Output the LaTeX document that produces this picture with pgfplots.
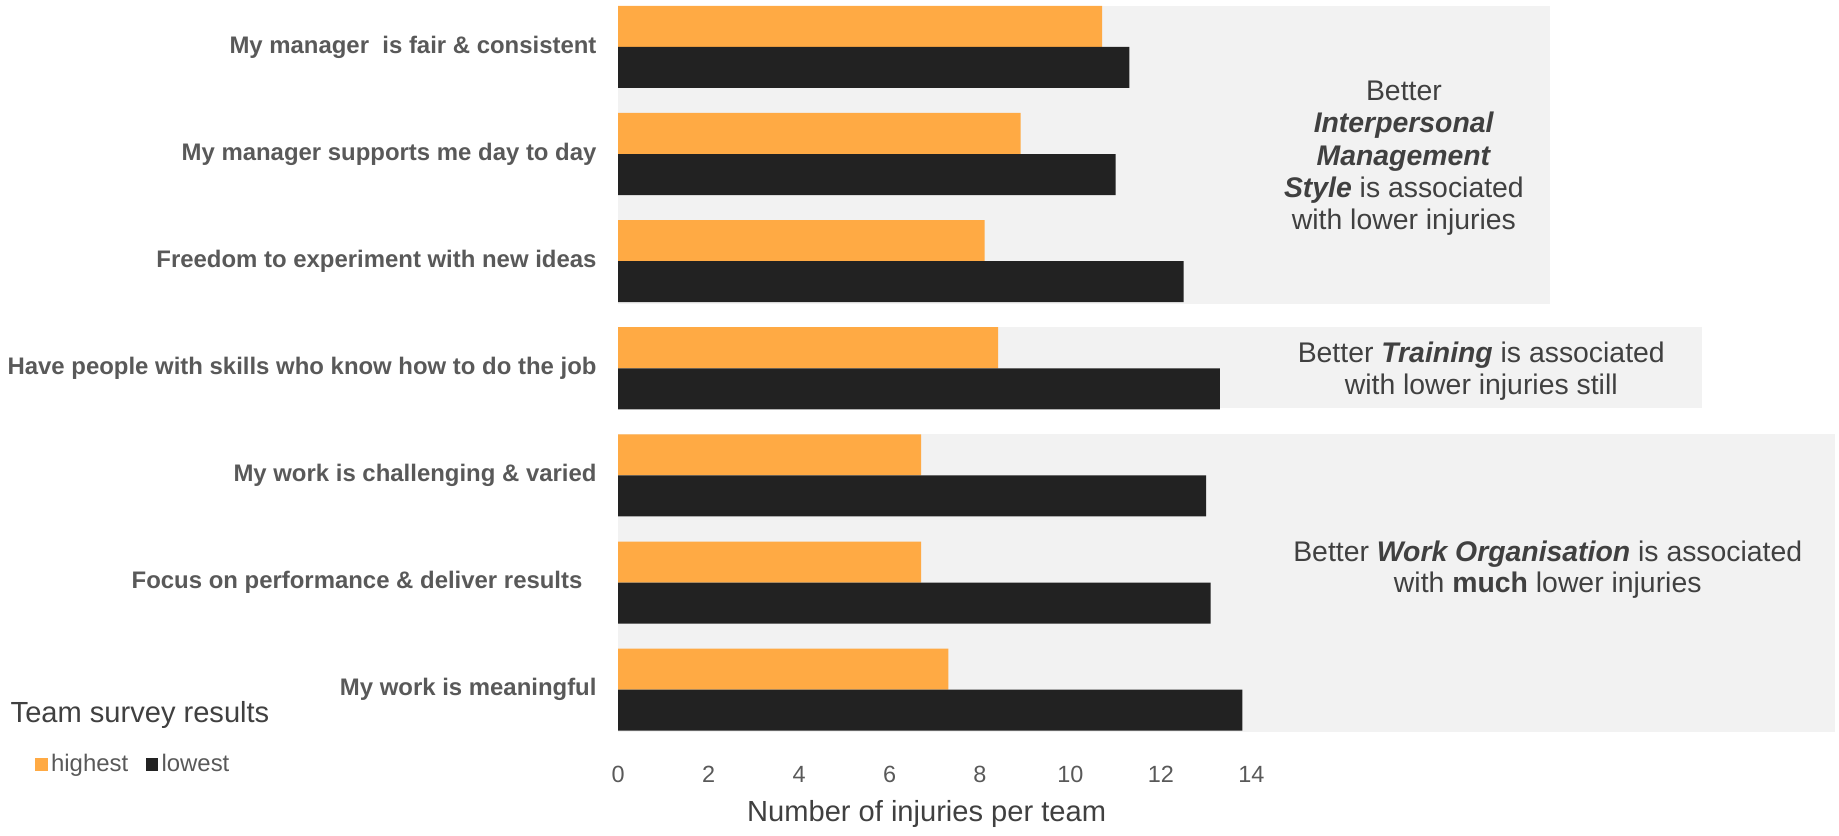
\documentclass[border=0pt]{standalone}
\usepackage{fontspec}
\setmainfont{Liberation Sans}
\usepackage{pgfplots}
\pgfplotsset{compat=1.18}
\definecolor{barorange}{HTML}{FFAA44}
\definecolor{barblack}{HTML}{222222}
\definecolor{boxgray}{HTML}{F2F2F2}
\definecolor{labgray}{HTML}{595959}
\definecolor{txtgray}{HTML}{404040}
\begin{document}
\begin{tikzpicture}
\begin{axis}[
  set layers,
  scale only axis, width=519pt, height=309.5pt,
  xmin=0, xmax=26.91, ymin=-0.394, ymax=6.383,
  xbar, bar width=0.383,
  axis lines*=left, axis line style={draw=none},
  tick style={draw=none}, major tick length=0pt,
  xtick={0,2,...,14},
  ytick={0,...,6},
  yticklabels={My work is meaningful, Focus on performance \& deliver results\rule{6pt}{0pt}, My work is challenging \& varied, Have people with skills who know how to do the job, Freedom to experiment with new ideas, My manager supports me day to day, My manager\ \ is fair \& consistent},
  yticklabel style={font=\bfseries\fontsize{10.2}{12}\selectfont, text=labgray, anchor=east, inner sep=0pt, xshift=-9pt},
  xticklabel style={font=\fontsize{10}{12}\selectfont, text=labgray, anchor=center, inner sep=0pt, yshift=-18pt},
  /pgf/number format/assume math mode=true,
  clip=false,
  legend style={draw=none, fill=none, at={(-0.479,-0.045)}, anchor=west, legend columns=2, font=\fontsize{10.2}{12}\selectfont, text=labgray, /tikz/every even column/.append style={column sep=6pt}, inner sep=0pt, nodes={inner sep=1.5pt}},
  legend cell align=left,
  legend image code/.code={\fill[#1] (0pt,-2.6pt) rectangle (5.2pt,2.6pt);},
]
\begin{pgfonlayer}{axis background}
\fill[boxgray] (axis cs:0,6.383) rectangle (axis cs:20.59,3.602);
\fill[boxgray] (axis cs:0,3.383) rectangle (axis cs:23.96,2.628);
\fill[boxgray] (axis cs:0,2.387) rectangle (axis cs:26.91,-0.394);
\end{pgfonlayer}
\path (axis description cs:-0.5077,1.0081) (axis description cs:1.0029,-0.1389);
\addplot[fill=barorange, draw=none, bar shift=0.1915] coordinates {(7.3,0) (6.7,1) (6.7,2) (8.4,3) (8.1,4) (8.9,5) (10.7,6)};
\addplot[fill=barblack, draw=none, bar shift=-0.1915] coordinates {(13.8,0) (13.1,1) (13.0,2) (13.3,3) (12.5,4) (11.0,5) (11.3,6)};
\legend{highest, lowest}
\node[align=center, font=\fontsize{12.1}{13.75}\selectfont, text=txtgray] at (axis cs:17.37,4.96) {Better\\\textbf{\textit{Interpersonal}}\\\textbf{\textit{Management}}\\\textbf{\textit{Style}} is associated\\with lower injuries};
\node[align=center, font=\fontsize{12.1}{13.5}\selectfont, text=txtgray] at (axis cs:19.08,2.975) {Better \textbf{\textit{Training}} is associated\\with lower injuries still};
\node[align=center, font=\fontsize{12.1}{13.2}\selectfont, text=txtgray] at (axis cs:20.55,1.12) {Better \textbf{\textit{Work Organisation}} is associated\\with \textbf{much} lower injuries};
\node[anchor=west, font=\fontsize{12.4}{14}\selectfont, text=txtgray] at (axis description cs:-0.5057,0.023) {Team survey results};
\node[font=\fontsize{12.4}{14}\selectfont, text=txtgray, yshift=-35pt] at (axis cs:6.82,-0.394) {Number of injuries per team};
\end{axis}
\end{tikzpicture}
\end{document}
